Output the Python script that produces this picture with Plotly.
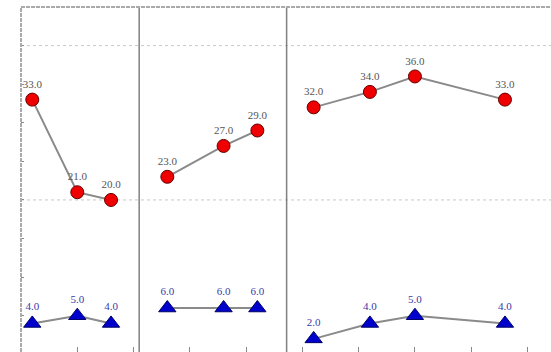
import plotly.graph_objects as go

# Data (three panels)
panel_x = [[1, 5, 8], [13, 18, 21], [26, 31, 35, 43]]
red_vals = [[33, 21, 20], [23, 27, 29], [32, 34, 36, 33]]
blue_vals = [[4, 5, 4], [6, 6, 6], [2, 4, 5, 4]]
separators = [10.5, 23.6]
x_ticks = [0, 5, 10, 15, 20, 25, 30, 35, 40, 45]
y_ticks = [5, 10, 15, 20, 25, 30, 35, 40]
grid_vals = [20, 40]

def join(groups):
    out = []
    for i, g in enumerate(groups):
        if i:
            out.append(None)
        out.extend(g)
    return out

xs = join(panel_x)
rs = join(red_vals)
bs = join(blue_vals)
rtext = [None if v is None else f"{v:.1f}" for v in rs]
btext = [None if v is None else f"{v:.1f}" for v in bs]

fig = go.Figure()
fig.add_trace(go.Scatter(
    x=xs, y=rs, mode="lines+markers+text", text=rtext,
    textposition="top center",
    textfont=dict(family="Liberation Serif", size=11, color="#555555"),
    line=dict(color="#8a8a8a", width=2),
    marker=dict(symbol="circle", size=13, color="#ee0000",
                line=dict(color="#660000", width=1)),
    connectgaps=False, showlegend=False, cliponaxis=False))
fig.add_trace(go.Scatter(
    x=xs, y=bs, mode="lines+markers+text", text=btext,
    textposition="top center",
    textfont=dict(family="Liberation Serif", size=11, color="#3a3aa8"),
    line=dict(color="#8a8a8a", width=2),
    marker=dict(symbol="triangle-up", size=15, color="#0000cc",
                line=dict(color="#000066", width=1)),
    connectgaps=False, showlegend=False, cliponaxis=False))

shapes = []
for g in grid_vals:
    shapes.append(dict(type="line", xref="paper", yref="y", x0=0, x1=1, y0=g, y1=g,
                       line=dict(color="#c8c8c8", width=1, dash="dot"), layer="below"))
for s in separators:
    shapes.append(dict(type="line", xref="x", yref="paper", x0=s, x1=s, y0=0, y1=1,
                       line=dict(color="#808080", width=1.5)))
# top border and left axis
shapes.append(dict(type="line", xref="paper", yref="paper", x0=0, x1=1, y0=1, y1=1,
                   line=dict(color="#aaaaaa", width=2, dash="4px,1px")))
shapes.append(dict(type="line", xref="paper", yref="paper", x0=0, x1=0, y0=0, y1=1,
                   line=dict(color="#aaaaaa", width=2, dash="4px,1px")))

fig.update_layout(
    width=551, height=352,
    margin=dict(l=21, r=0, t=7, b=0),
    paper_bgcolor="white", plot_bgcolor="white",
    shapes=shapes,
    xaxis=dict(range=[0, 47.09], showgrid=False, zeroline=False, showline=False,
               tickvals=x_ticks, ticks="inside", ticklen=5, tickcolor="#888888",
               showticklabels=False),
    yaxis=dict(range=[0.3, 45], showgrid=False, zeroline=False, showline=False,
               tickvals=y_ticks, ticks="inside", ticklen=3, tickcolor="#888888",
               showticklabels=False),
)

fig.write_html("out.html", config={"displayModeBar": False},
               post_script="document.body.style.margin='0';document.body.style.padding='0';")
